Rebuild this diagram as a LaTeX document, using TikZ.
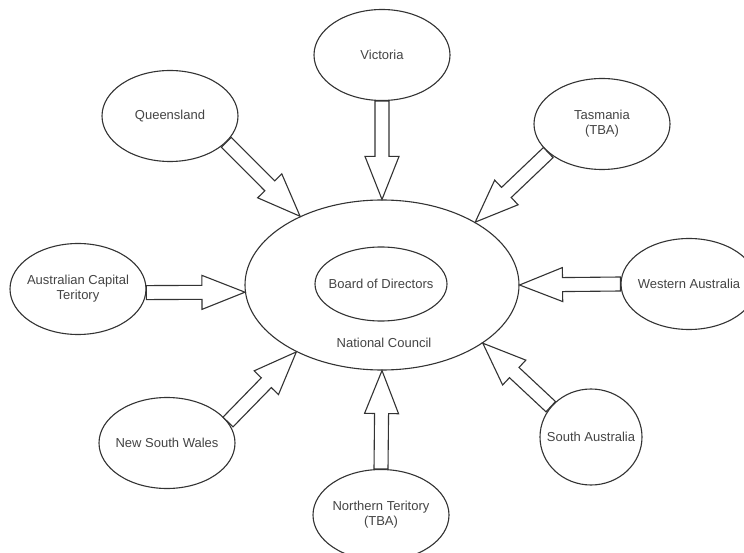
\documentclass[tikz,border=0pt]{standalone}
\usepackage{fontspec}
\setmainfont{Liberation Sans}
\usetikzlibrary{shapes.geometric,calc}
\definecolor{linec}{HTML}{333333}
\definecolor{textc}{HTML}{444444}
\newcommand{\blockarrow}[2]{%
  \coordinate (hh) at ($(#2)!43pt!(#1)$);
  \draw[arr] ($(#1)!7pt!90:(#2)$) -- ($(hh)!7pt!-90:(#1)$) -- ($(hh)!17pt!-90:(#1)$)
    -- (#2) -- ($(hh)!17pt!90:(#1)$) -- ($(hh)!7pt!90:(#1)$) -- ($(#1)!7pt!-90:(#2)$) -- cycle;}
\begin{document}
\begin{tikzpicture}[x=1pt,y=1pt,
  ell/.style={ellipse, draw=linec, line width=1.1pt, fill=white, inner sep=0pt,
    minimum width=136pt, minimum height=91pt},
  lab/.style={text=textc, font=\fontsize{13}{15}\selectfont, align=center, inner sep=0pt},
  arr/.style={draw=linec, line width=1.1pt, fill=white, line join=miter}]
\useasboundingbox (0,0) rectangle (744,-553);
\clip (0,0) rectangle (744,-553);
\fill[white] (0,0) rectangle (744,-553);
% central
\node[ell, minimum width=274pt, minimum height=170pt] (nc) at (382,-285) {};
\node[ell, minimum width=132pt, minimum height=74pt, label={[lab]center:Board of Directors}] (bod) at (381,-284) {};
\node[lab] (nct) at (384,-343) {National Council};
% states
\node[ell, label={[lab]center:Victoria}] (vic) at (382,-55) {};
\node[ell, label={[lab]center:Queensland}] (qld) at (170,-116) {};
\node[ell, label={[lab]center:Tasmania\\(TBA)}] (tas) at (602,-124) {};
\node[ell, label={[lab]center:Western Australia}] (wa) at (689,-284) {};
\node[ell, label={[lab]center:Australian Capital\\Teritory}] (act) at (78,-289) {};
\node[ell, label={[lab]center:New South Wales}] (nsw) at (167,-443) {};
\node[ell, label={[lab]center:Northern Teritory\\(TBA)}] (nt) at (381,-515) {};
\node[ell, minimum width=102pt, minimum height=96pt, label={[lab]center:South Australia}] (sa) at (591,-437) {};
% arrows
\blockarrow{vic.-90}{nc.90}
\blockarrow{qld.-25}{nc.140}
\blockarrow{tas.208}{nc.34}
\blockarrow{wa.180}{nc.0}
\blockarrow{act.-3}{nc.183}
\blockarrow{nsw.19}{nc.218}
\blockarrow{nt.90}{nc.-90}
\blockarrow{sa.143}{nc.-30}
\end{tikzpicture}
\end{document}
